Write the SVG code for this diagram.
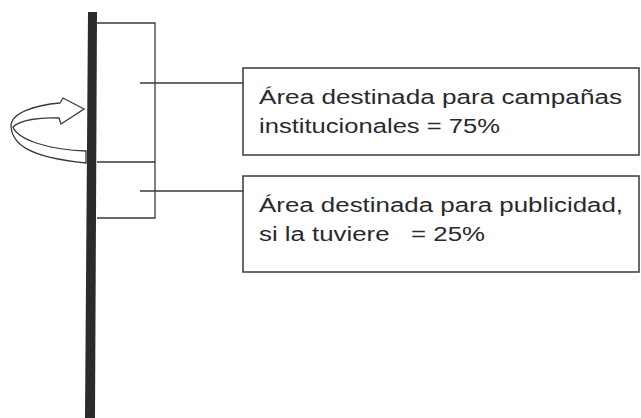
<svg xmlns="http://www.w3.org/2000/svg" width="641" height="418" viewBox="0 0 641 418">
<style>
.ln{fill:none;stroke:#3a3a3a;stroke-width:1.3}
.box{fill:#fff;stroke:#3a3a3a;stroke-width:1.5}
.t{font-family:"Liberation Sans",Arial,sans-serif;font-size:20px;fill:#2a2a2a}
</style>
<rect width="641" height="418" fill="#fff"/>
<g id="rotation-arrow">
<path class="ln" d="M86 151 C50 150 18 140 13 127 C20 120 40 117 59 118 L61 124 L84 109 L63 98 L60 103 C35 105 11 113 11 126 C12 143 26 157 86 163 Z"/>
</g>
<g id="pole">
<polygon points="88,12 97,12 95,418 85,418" fill="#2b2b2b"/>
</g>
<g id="panel">
<path class="ln" d="M97 23 H155 V218 H97 M97 162 H155"/>
</g>
<g id="connectors">
<path class="ln" d="M140 83 H243 M140 191 H243"/>
</g>
<g id="box-campaigns">
<rect class="box" x="243" y="68" width="396" height="87"/>
<text class="t" x="259" y="104" textLength="363" lengthAdjust="spacingAndGlyphs">Área destinada para campañas</text>
<text class="t" x="259" y="133" textLength="241" lengthAdjust="spacingAndGlyphs">institucionales = 75%</text>
</g>
<g id="box-advertising">
<rect class="box" x="243" y="176" width="396" height="96"/>
<text class="t" x="259" y="212" textLength="364" lengthAdjust="spacingAndGlyphs">Área destinada para publicidad,</text>
<text class="t" x="259" y="241" textLength="226" lengthAdjust="spacingAndGlyphs" xml:space="preserve">si la tuviere   = 25%</text>
</g>
</svg>
